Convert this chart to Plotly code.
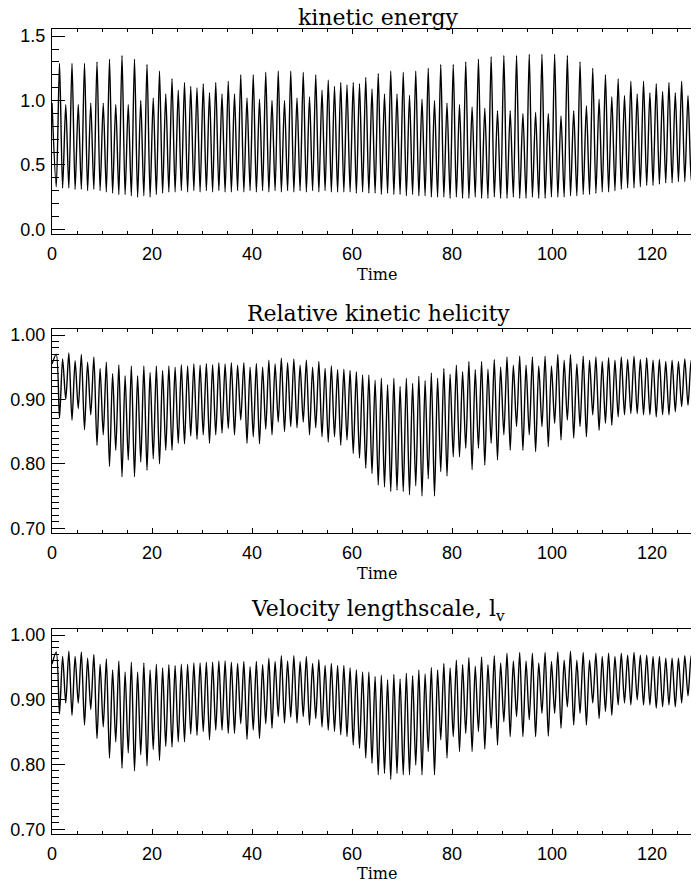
import plotly.graph_objects as go

# times of the energy peaks (= dips of helicity / lengthscale)
t_peak = [1.50, 2.75, 4.00, 5.25, 6.50, 7.75, 9.00, 10.25, 11.50, 12.75,
          14.00, 15.25, 16.50, 17.75, 19.00, 20.25, 21.50, 22.75, 24.00, 25.25,
          26.50, 27.75, 29.00, 30.25, 31.50, 32.75, 34.00, 35.25, 36.50, 37.75,
          39.00, 40.25, 41.50, 42.75, 44.00, 45.25, 46.50, 47.75, 49.00, 50.25,
          51.50, 52.75, 54.00, 55.25, 56.50, 57.75, 59.00, 60.25, 61.50, 62.75,
          64.00, 65.25, 66.50, 67.75, 69.00, 70.25, 71.50, 72.75, 74.00, 75.25,
          76.50, 77.75, 79.00, 80.25, 81.50, 82.75, 84.02, 85.29, 86.56, 87.83,
          89.10, 90.37, 91.64, 92.91, 94.18, 95.45, 96.72, 97.99, 99.26, 100.53,
          101.80, 103.07, 104.34, 105.61, 106.88, 108.15, 109.42, 110.69, 111.96, 113.23,
          114.50, 115.77, 117.04, 118.31, 119.58, 120.85, 122.12, 123.39, 124.66, 125.93,
          127.20, 128.47]
# times of the energy troughs (= maxima of helicity / lengthscale)
t_trough = [0.85, 2.12, 3.37, 4.62, 5.87, 7.12, 8.37, 9.62, 10.87, 12.12,
            13.37, 14.62, 15.87, 17.12, 18.37, 19.62, 20.87, 22.12, 23.37, 24.62,
            25.87, 27.12, 28.37, 29.62, 30.87, 32.12, 33.37, 34.62, 35.87, 37.12,
            38.37, 39.62, 40.87, 42.12, 43.37, 44.62, 45.87, 47.12, 48.37, 49.62,
            50.87, 52.12, 53.37, 54.62, 55.87, 57.12, 58.37, 59.62, 60.87, 62.12,
            63.37, 64.62, 65.87, 67.12, 68.37, 69.62, 70.87, 72.12, 73.37, 74.62,
            75.87, 77.12, 78.37, 79.62, 80.87, 82.12, 83.38, 84.65, 85.92, 87.19,
            88.46, 89.73, 91.00, 92.27, 93.54, 94.81, 96.08, 97.35, 98.62, 99.89,
            101.16, 102.43, 103.70, 104.97, 106.24, 107.51, 108.78, 110.05, 111.32, 112.59,
            113.86, 115.13, 116.40, 117.67, 118.94, 120.21, 121.48, 122.75, 124.02, 125.29,
            126.56, 127.83, 129.10]

energy_start = 0.98
energy_peak = [1.29, 0.97, 1.29, 0.97, 1.29, 0.98, 1.30, 0.98, 1.32, 0.97,
               1.35, 0.97, 1.32, 1.00, 1.28, 1.02, 1.23, 1.05, 1.17, 1.08,
               1.14, 1.11, 1.10, 1.13, 1.06, 1.14, 1.05, 1.15, 1.05,
               1.20, 1.02, 1.20, 1.01, 1.22, 1.00, 1.23, 1.00, 1.23, 1.02,
               1.22, 1.03, 1.20, 1.08, 1.16, 1.11, 1.14, 1.12, 1.14, 1.13,
               1.18, 1.09, 1.21, 1.05, 1.23, 1.05, 1.22, 1.04, 1.23, 1.01,
               1.25, 1.00, 1.28, 0.98, 1.28, 0.97, 1.30,
               0.95, 1.32, 0.94, 1.34, 0.92, 1.35, 0.92, 1.35, 0.90, 1.36,
               0.91, 1.36, 0.90, 1.36, 0.88, 1.35, 0.92, 1.30, 0.96, 1.25,
               1.01, 1.20, 1.03, 1.17, 1.04, 1.15, 1.05, 1.15, 1.06, 1.13,
               1.07, 1.14, 1.06, 1.15, 1.04, 1.14]
energy_trough = [0.33,
                 0.32, 0.32, 0.31, 0.31, 0.30, 0.31, 0.30, 0.29, 0.28, 0.27,
                 0.27, 0.26, 0.25, 0.26, 0.25, 0.27, 0.28, 0.29, 0.29, 0.30,
                 0.29, 0.30, 0.29, 0.30, 0.29, 0.30, 0.29, 0.29,
                 0.30, 0.29, 0.30, 0.29, 0.30, 0.29, 0.30, 0.29, 0.30, 0.29,
                 0.30, 0.29, 0.30, 0.29, 0.30, 0.29, 0.29, 0.29, 0.29, 0.28,
                 0.29, 0.28,
                 0.28, 0.27, 0.28, 0.27, 0.27, 0.26, 0.27, 0.26, 0.26, 0.25,
                 0.25, 0.25, 0.24, 0.25, 0.24,
                 0.24, 0.25, 0.24, 0.24, 0.25, 0.24, 0.24, 0.25, 0.24, 0.24,
                 0.25, 0.24, 0.24, 0.25, 0.25, 0.25, 0.26, 0.26, 0.27, 0.27,
                 0.28, 0.29, 0.29, 0.30, 0.31, 0.32, 0.32, 0.33, 0.34, 0.34,
                 0.35, 0.36, 0.36, 0.37, 0.37, 0.38, 0.38]

helicity_start = 0.955
helicity_min = [0.871, 0.900, 0.868, 0.886, 0.853, 0.876, 0.829, 0.845, 0.796, 0.821,
                0.780, 0.806, 0.780, 0.803, 0.790, 0.808, 0.800, 0.821, 0.821, 0.832,
                0.831, 0.843, 0.838, 0.845, 0.832, 0.845, 0.848, 0.855, 0.845,
                0.868, 0.832, 0.842, 0.831, 0.854, 0.845, 0.865, 0.850, 0.858, 0.856,
                0.865, 0.845, 0.856, 0.842, 0.834, 0.842, 0.829, 0.837, 0.816, 0.809,
                0.793, 0.785, 0.767, 0.764, 0.757, 0.759, 0.757, 0.752, 0.766, 0.750,
                0.777, 0.750, 0.788, 0.781, 0.811, 0.811, 0.824,
                0.791, 0.824, 0.798, 0.832, 0.806, 0.845, 0.821, 0.858, 0.821, 0.845,
                0.819, 0.858, 0.827, 0.863, 0.837, 0.868, 0.840, 0.858, 0.842, 0.876,
                0.852, 0.863, 0.860, 0.873, 0.876, 0.878, 0.878, 0.876, 0.876, 0.873,
                0.876, 0.876, 0.881, 0.889, 0.891, 0.899]
helicity_max = [0.970, 0.963, 0.972, 0.960, 0.970, 0.958, 0.966, 0.948, 0.958, 0.940,
                0.954, 0.937, 0.952, 0.937, 0.952, 0.942, 0.952, 0.945, 0.952, 0.950,
                0.954, 0.952, 0.955, 0.953, 0.956, 0.954, 0.957, 0.955, 0.957,
                0.953, 0.957, 0.950, 0.956, 0.950, 0.961, 0.955, 0.964, 0.957, 0.963,
                0.953, 0.961, 0.950, 0.959, 0.948, 0.952, 0.946, 0.947, 0.945, 0.943,
                0.938, 0.938, 0.930, 0.933, 0.923, 0.933, 0.920, 0.933, 0.925, 0.936,
                0.929, 0.941, 0.933, 0.948, 0.939, 0.953, 0.943, 0.959,
                0.946, 0.959, 0.947, 0.962, 0.950, 0.966, 0.953, 0.967, 0.953, 0.966,
                0.952, 0.967, 0.952, 0.970, 0.961, 0.970, 0.955, 0.967, 0.961, 0.966,
                0.959, 0.965, 0.961, 0.966, 0.962, 0.967, 0.962, 0.965, 0.961, 0.962,
                0.959, 0.961, 0.959, 0.963, 0.961, 0.967]

length_start = 0.955
length_min = [0.878, 0.895, 0.876, 0.895, 0.861, 0.885, 0.840, 0.858, 0.810, 0.835,
              0.794, 0.818, 0.790, 0.815, 0.798, 0.823, 0.806, 0.828, 0.827, 0.835,
              0.835, 0.847, 0.845, 0.851, 0.838, 0.853, 0.853, 0.848,
              0.848, 0.863, 0.839, 0.853, 0.840, 0.863, 0.856, 0.874, 0.864, 0.873,
              0.864, 0.874, 0.861, 0.871, 0.858, 0.853, 0.851, 0.846, 0.843, 0.830,
              0.825, 0.810, 0.802, 0.784, 0.786, 0.777, 0.786, 0.784, 0.784, 0.799,
              0.784, 0.820, 0.784, 0.838, 0.810, 0.843, 0.820, 0.848,
              0.820, 0.851, 0.824, 0.856, 0.830, 0.866, 0.843, 0.874, 0.843, 0.869,
              0.843, 0.879, 0.844, 0.879, 0.856, 0.889, 0.861, 0.879, 0.861, 0.895,
              0.871, 0.882, 0.876, 0.892, 0.895, 0.892, 0.900, 0.892, 0.892, 0.887,
              0.889, 0.892, 0.889, 0.895, 0.906, 0.915]
length_max = [0.974, 0.967, 0.975, 0.967, 0.974, 0.964, 0.970, 0.955, 0.963, 0.946,
              0.960, 0.943, 0.958, 0.943, 0.957, 0.946, 0.955, 0.949, 0.954, 0.953,
              0.955, 0.955, 0.957, 0.957, 0.958, 0.958, 0.960, 0.960, 0.958,
              0.956, 0.959, 0.951, 0.959, 0.954, 0.964, 0.959, 0.968, 0.960, 0.968,
              0.959, 0.967, 0.956, 0.962, 0.953, 0.956, 0.953, 0.953, 0.949, 0.946,
              0.943, 0.943, 0.936, 0.938, 0.931, 0.939, 0.932, 0.941, 0.937, 0.946,
              0.940, 0.950, 0.946, 0.956, 0.949, 0.961, 0.954, 0.965,
              0.952, 0.966, 0.954, 0.968, 0.957, 0.972, 0.960, 0.973, 0.960, 0.972,
              0.957, 0.973, 0.959, 0.974, 0.961, 0.975, 0.961, 0.973, 0.961, 0.972,
              0.967, 0.972, 0.967, 0.972, 0.969, 0.973, 0.969, 0.969, 0.967, 0.967,
              0.964, 0.964, 0.964, 0.968, 0.968, 0.972]

x_ticks = [0, 20, 40, 60, 80, 100, 120]


def trace_points(start, at_trough, at_peak):
    xs, ys = [0.0], [start]
    for k in range(len(t_peak)):
        xs += [t_trough[k], t_peak[k]]
        ys += [at_trough[k], at_peak[k]]
    xs.append(t_trough[-1])
    ys.append(at_trough[-1])
    return xs, ys


# the page body has an 8px margin, so the figure is sized to fit inside it
panels = [
    dict(title='kinetic energy', data=(energy_start, energy_trough, energy_peak),
         yrange=[-0.039, 1.553], dom=[0.74167, 0.97568], dtick=0.5, minor=0.1,
         fmt='.1f', tshift=-3),
    dict(title='Relative kinetic helicity', data=(helicity_start, helicity_max, helicity_min),
         yrange=[0.6922, 1.0089], dom=[0.40034, 0.63322], dtick=0.1, minor=0.01,
         fmt='.2f', tshift=1),
    dict(title='Velocity lengthscale, l<sub>v</sub>', data=(length_start, length_max, length_min),
         yrange=[0.6926, 1.0093], dom=[0.05708, 0.29110], dtick=0.1, minor=0.01,
         fmt='.2f', tshift=2),
]

fig = go.Figure()
sans = dict(family='Liberation Sans, Arial', size=18, color='black')
serif = 'DejaVu Serif'

for i, p in enumerate(panels, start=1):
    xs, ys = trace_points(*p['data'])
    fig.add_trace(go.Scatter(
        x=xs, y=ys, mode='lines',
        line=dict(color='black', width=1.4, shape='spline', smoothing=0.8),
        xaxis='x%d' % i, yaxis='y%d' % i, showlegend=False, hoverinfo='skip'
    ))
    fig.layout['xaxis%d' % i] = dict(
        domain=[0, 1], anchor='y%d' % i, range=[0, 129.4], automargin=False,
        tickvals=x_ticks, ticks='inside', ticklen=5, tickwidth=1, tickcolor='black',
        minor=dict(dtick=5, tick0=0, ticks='inside', ticklen=3, tickcolor='black'),
        showline=True, linecolor='black', linewidth=1, mirror='ticks',
        showgrid=False, zeroline=False, tickfont=sans, ticklabelstandoff=3,
    )
    fig.layout['yaxis%d' % i] = dict(
        domain=p['dom'], anchor='x%d' % i, range=p['yrange'], automargin=False,
        tick0=0, dtick=p['dtick'], tickformat=p['fmt'],
        ticks='inside', ticklen=13, tickwidth=1, tickcolor='black',
        minor=dict(dtick=p['minor'], tick0=0, ticks='inside', ticklen=7, tickcolor='black'),
        showline=True, linecolor='black', linewidth=1,
        showgrid=False, zeroline=False, tickfont=sans, ticklabelstandoff=2,
    )
    # right-hand ticks: only the inner ends show, the frame itself is cut off
    fig.layout['yaxis%d' % (i + 3)] = dict(
        overlaying='y%d' % i, side='right', anchor='x%d' % i, range=p['yrange'],
        automargin=False, tick0=0, dtick=p['dtick'], ticks='inside', ticklen=6,
        tickcolor='black', showticklabels=False, showline=False, showgrid=False,
        zeroline=False,
    )
    fig.add_annotation(
        text=p['title'], xref='paper', yref='paper', x=0.504, y=p['dom'][1],
        xanchor='center', yanchor='bottom', yshift=p['tshift'], showarrow=False,
        font=dict(family=serif, size=22, color='black'),
    )
    fig.add_annotation(
        text='Time', xref='paper', yref='paper', x=0.502, y=p['dom'][0],
        xanchor='center', yanchor='middle', yshift=-40, showarrow=False,
        font=dict(family=serif, size=16, color='black'),
    )

fig.update_layout(
    width=691, height=876,
    margin=dict(l=44, r=0, t=0, b=0),
    paper_bgcolor='white', plot_bgcolor='white',
)

fig.write_html("out.html")
